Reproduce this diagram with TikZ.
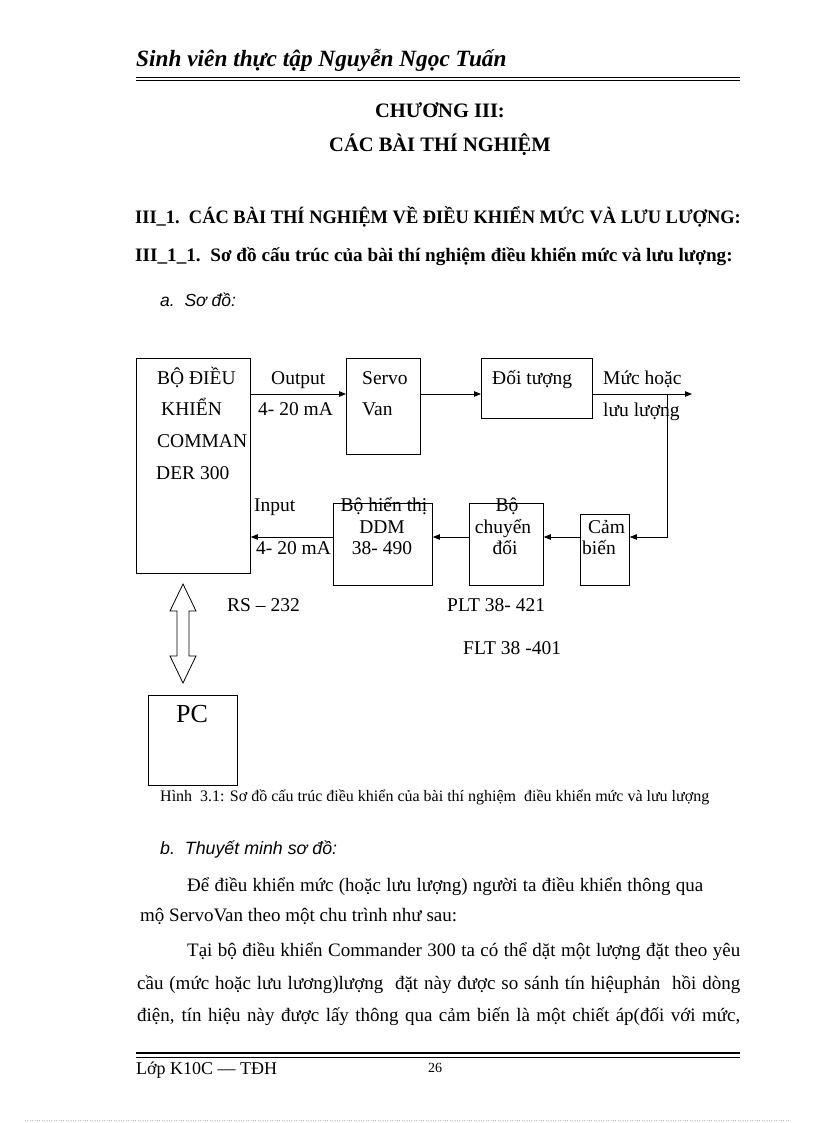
\documentclass[tikz,border=0pt]{standalone}
\usepackage{fontspec}
\setmainfont{Liberation Serif}
\newfontfamily\sansit{Liberation Sans}
\usetikzlibrary{arrows.meta}
\newcommand\dgm{\fontsize{19.5}{22}\selectfont}
\newcommand\bodytxt{\fontsize{19}{22}\selectfont}
\newcommand\headtxt{\fontsize{19}{22}\selectfont\bfseries}
\newcommand\titletxt{\fontsize{20.5}{24}\selectfont\bfseries}
\tikzset{
  blk/.style={draw, line width=0.8pt, inner sep=0pt, anchor=north west},
  lbl/.style={anchor=base west, inner sep=0pt, font=\dgm},
  ctr/.style={anchor=base, inner sep=0pt, font=\dgm},
  sig/.style={line width=0.8pt, -{Triangle[length=7pt,width=5.5pt]}},
  txt/.style={anchor=base west, inner sep=0pt, font=\bodytxt},
}
\begin{document}
\begin{tikzpicture}[x=1pt,y=-1pt]
\fill [white] (0,0) rectangle (816,1123);
\useasboundingbox (0,0) rectangle (816,1123);
% page header
\node [txt, font=\fontsize{23.3}{25}\selectfont\bfseries\itshape] (hdr) at (136,67) {Sinh viên thực tập Nguyễn Ngọc Tuấn};
\draw [line width=0.9pt] (136,77) -- (740,77);
\draw [line width=1.4pt] (136,80.5) -- (740,80.5);
\node [anchor=base, inner sep=0pt, font=\titletxt] (ch) at (440,118) {CHƯƠNG III:};
\node [anchor=base, inner sep=0pt, font=\titletxt] (chname) at (440,152) {CÁC BÀI THÍ NGHIỆM};
\node [txt, font=\headtxt] (sec) at (135,224) {\scalebox{0.97}[1]{III\_1.\ \ CÁC BÀI THÍ NGHIỆM VỀ ĐIỀU KHIỂN MỨC VÀ LƯU LƯỢNG:}};
\node [txt, font=\headtxt] (subsec) at (135,261) {\scalebox{1.01}[1]{III\_1\_1.\ \ Sơ đồ cấu trúc của bài thí nghiệm điều khiển mức và lưu lượng:}};
\node [txt, font=\fontsize{17.5}{20}\selectfont\sansit\itshape] (parta) at (160,306) {a.\ \ Sơ đồ:};
% blocks
\node [blk, minimum width=114pt, minimum height=215pt] (ctrl) at (136,358) {};
\node [blk, minimum width=74pt, minimum height=96pt] (servo) at (346,358) {};
\node [blk, minimum width=111pt, minimum height=60pt] (plant) at (481,358) {};
\node [blk, minimum width=99pt, minimum height=82pt] (disp) at (333,503) {};
\node [blk, minimum width=74pt, minimum height=82pt] (conv) at (469,503) {};
\node [blk, minimum width=49pt, minimum height=71pt] (sensor) at (580,514) {};
\node [blk, minimum width=89pt, minimum height=90pt] (pc) at (148,695) {};
% block texts
\node [lbl] (c1) at (157,384) {BỘ ĐIỀU};
\node [lbl] (c2) at (161,415) {KHIỂN};
\node [lbl] (c3) at (157,447) {COMMAN};
\node [lbl] (c4) at (156,479) {DER 300};
\node [lbl] (s1) at (362,384) {Servo};
\node [lbl] (s2) at (362,415) {Van};
\node [lbl] (p1) at (492,384) {Đối tượng};
\node [ctr] (d1) at (384,511) {Bộ hiển thị};
\node [ctr] (d2) at (382,533) {DDM};
\node [ctr] (d3) at (382,554) {38- 490};
\node [ctr] (v1) at (507,511) {Bộ};
\node [ctr] (v2) at (503,533) {chuyển};
\node [ctr] (v3) at (505,554) {đổi};
\node [lbl] (e1) at (588,533) {Cảm};
\node [lbl] (e2) at (582,554) {biến};
\node [anchor=base, inner sep=0pt, font=\fontsize{26}{28}\selectfont] (pcl) at (192,722) {PC};
% signal labels
\node [lbl] (o1) at (271,384) {Output};
\node [lbl] (o2) at (258,415) {4- 20 mA};
\node [lbl] (i1) at (254,511) {Input};
\node [lbl] (i2) at (256,554) {4- 20 mA};
\node [lbl] (y1) at (603,384) {Mức hoặc};
\node [lbl] (y2) at (603,416) {lưu lượng};
\node [lbl] (rs) at (227,611) {RS -- 232};
\node [lbl] (plt) at (447,611) {PLT 38- 421};
\node [lbl] (flt) at (463,654) {FLT 38 -401};
% connectors
\coordinate (ytop) at (0,394);
\coordinate (ybot) at (0,537);
\coordinate (xret) at (667,0);
\coordinate (yend) at (692,394);
\draw [sig] (ctrl.east |- ytop) -- (servo.west |- ytop);
\draw [sig] (servo.east |- ytop) -- (plant.west |- ytop);
\draw [sig] (plant.east |- ytop) -- (yend);
\draw [sig] (xret |- ytop) -- (xret |- ybot) -- (sensor.east |- ybot);
\draw [sig] (sensor.west |- ybot) -- (conv.east |- ybot);
\draw [sig] (conv.west |- ybot) -- (disp.east |- ybot);
\draw [sig] (disp.west |- ybot) -- (ctrl.east |- ybot);
% RS-232 link
\draw [line width=0.8pt] (183,584) -- (196,611) -- (189,611) -- (189,656) -- (196,656) -- (183,683) -- (170,656) -- (177,656) -- (177,611) -- (170,611) -- cycle;
\node [txt, font=\fontsize{16}{18}\selectfont] (cap) at (160,801) {Hình\ \ 3.1: Sơ đồ cấu trúc điều khiển của bài thí nghiệm\ \ điều khiển mức và lưu lượng};
% explanation
\node [txt, font=\fontsize{17.8}{20}\selectfont\sansit\itshape] (partb) at (160,854) {b.\ \ Thuyết minh sơ đồ:};
\node [txt] (l1) at (187,891) {\makebox[516pt][s]{Để điều khiển mức (hoặc lưu lượng) người ta điều khiển thông qua}};
\node [txt] (l2) at (140,921) {mộ ServoVan theo một chu trình như sau:};
\node [txt] (l3) at (187,956) {\makebox[553pt][s]{Tại bộ điều khiển Commander 300 ta có thể dặt một lượng đặt theo yêu}};
\node [txt] (l4) at (137,989) {\makebox[603pt][s]{cầu (mức hoặc lưu lương)lượng\ \ đặt này được so sánh tín hiệuphản\ \ hồi dòng}};
\node [txt] (l5) at (137,1021) {\makebox[603pt][s]{điện, tín hiệu này được lấy thông qua cảm biến là một chiết áp(đối với mức,}};
% page footer
\draw [line width=2pt] (136,1053) -- (740,1053);
\draw [line width=0.9pt] (136,1057) -- (740,1057);
\node [txt, font=\fontsize{18}{20}\selectfont] (ftr) at (136,1074) {Lớp K10C --- TĐH};
\node [txt, font=\fontsize{14}{16}\selectfont] (pg) at (428,1072) {26};
\draw [gray!50, dotted] (25,1120) -- (790,1120);
\end{tikzpicture}
\end{document}
